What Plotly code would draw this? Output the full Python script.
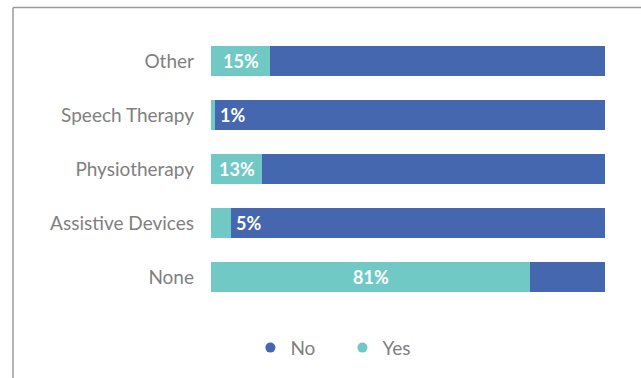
import plotly.graph_objects as go

# Share of respondents using each service
categories = ["Other", "Speech Therapy", "Physiotherapy", "Assistive Devices", "None"]
yes_pct = [15, 1, 13, 5, 81]
no_pct = [100 - v for v in yes_pct]

YES_COLOR = "#70C9C4"
NO_COLOR = "#4567AF"
FONT = "Lato"

fig = go.Figure()
fig.add_trace(go.Bar(y=categories, x=yes_pct, orientation="h", name="Yes",
                     marker=dict(color=YES_COLOR, line_width=0), showlegend=False,
                     width=0.54))
fig.add_trace(go.Bar(y=categories, x=no_pct, orientation="h", name="No",
                     marker=dict(color=NO_COLOR, line_width=0), showlegend=False,
                     width=0.54))

# Legend entries shown as round markers
for name, color in [("No", NO_COLOR), ("Yes", YES_COLOR)]:
    fig.add_trace(go.Scatter(x=[None], y=[None], mode="markers", name=name,
                             marker=dict(color=color, size=10, symbol="circle")))

# Value labels: centred in the segment, or just past its end when too narrow
for cat, v in zip(categories, yes_pct):
    if v >= 10:
        fig.add_annotation(x=v / 2, y=cat, text=f"<b>{v}%</b>", showarrow=False,
                           xanchor="center", font=dict(color="white", size=18, family=FONT))
    else:
        fig.add_annotation(x=v, y=cat, text=f"<b>{v}%</b>", showarrow=False,
                           xanchor="left", xshift=3, font=dict(color="white", size=18, family=FONT))

# Frame lines along the top and left
frame = dict(type="line", xref="paper", yref="paper", line=dict(color="#9a9a9a", width=1.5))
fig.add_shape(**frame, x0=-0.5025, x1=1.1, y0=1.098, y1=1.098)
fig.add_shape(**frame, x0=-0.5025, x1=-0.5025, y0=1.098, y1=-0.3)

fig.update_layout(
    barmode="stack",
    width=641, height=378,
    margin=dict(l=211, r=36, t=34, b=74, autoexpand=False),
    plot_bgcolor="white", paper_bgcolor="white",
    font=dict(family=FONT, color="#7f7f7f", size=19),
    showlegend=True,
    legend=dict(orientation="h", x=0.1, xanchor="left",
                yref="container", y=0.08, yanchor="middle",
                font=dict(size=19, color="#7f7f7f"), traceorder="normal",
                entrywidth=47, itemwidth=30, bgcolor="rgba(0,0,0,0)"),
    xaxis=dict(range=[0, 100], visible=False, fixedrange=True),
    yaxis=dict(categoryorder="array", categoryarray=categories[::-1],
               showgrid=False, showline=False, zeroline=False,
               ticks="", ticklabelstandoff=16,
               tickfont=dict(size=19, color="#7f7f7f", family=FONT)),
)

fig.write_html("out.html")
